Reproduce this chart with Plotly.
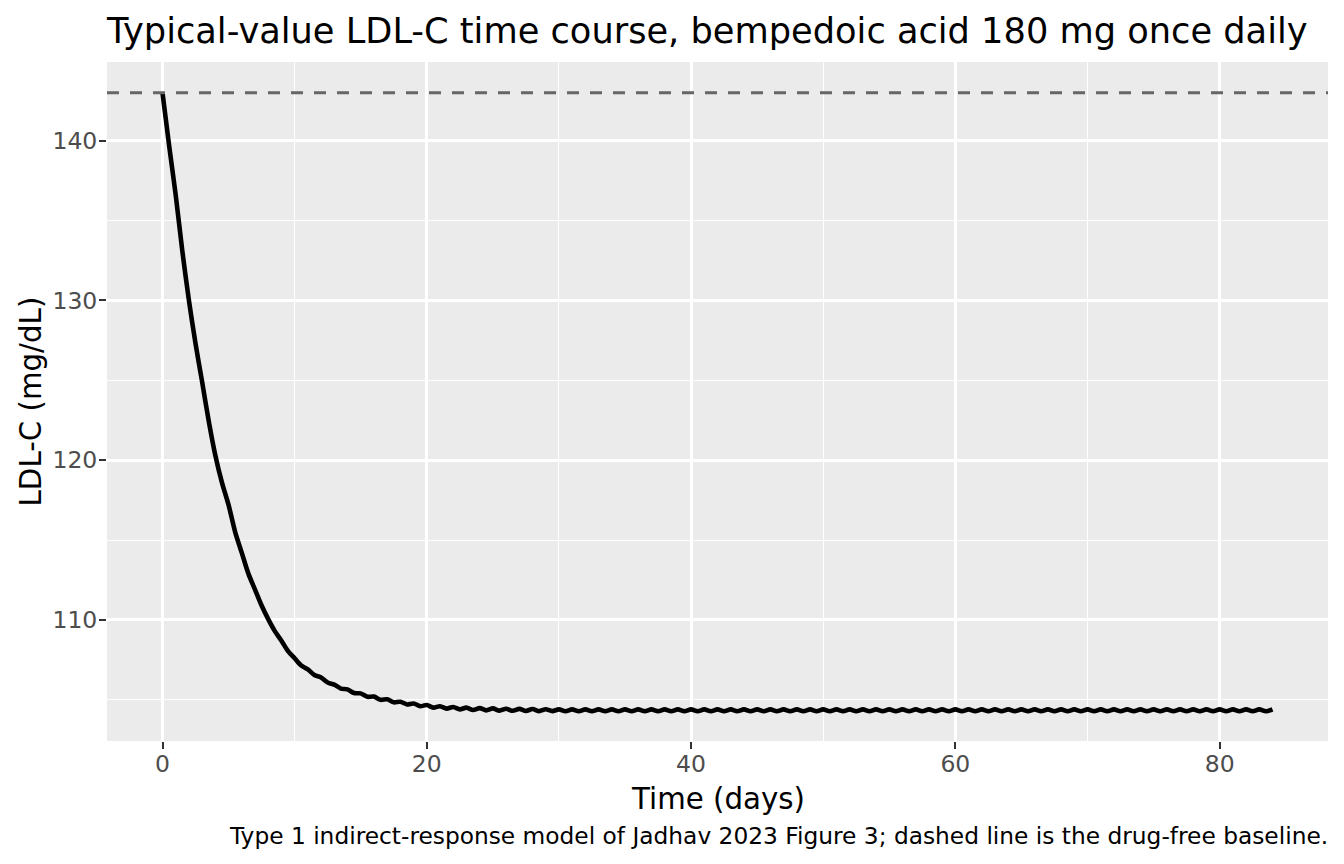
import plotly.graph_objects as go

# LDL-C (mg/dL) at each daily dose time, day 0..84
ldl_at_dose = [
    143.0, 136.6, 130.0, 124.9, 120.3, 117.2, 114.2, 111.9, 110.05, 108.7,
    107.6, 106.9, 106.4, 105.95, 105.65, 105.4, 105.2, 105.03, 104.88, 104.77,
    104.67, 104.6, 104.55, 104.51, 104.48, 104.46, 104.44, 104.43, 104.42, 104.41,
    104.4, 104.4, 104.4, 104.4, 104.4, 104.4, 104.4, 104.4, 104.4, 104.4,
    104.4, 104.4, 104.4, 104.4, 104.4, 104.4, 104.4, 104.4, 104.4, 104.4,
    104.4, 104.4, 104.4, 104.4, 104.4, 104.4, 104.4, 104.4, 104.4, 104.4,
    104.4, 104.4, 104.4, 104.4, 104.4, 104.4, 104.4, 104.4, 104.4, 104.4,
    104.4, 104.4, 104.4, 104.4, 104.4, 104.4, 104.4, 104.4, 104.4, 104.4,
    104.4, 104.4, 104.4, 104.4, 104.4,
]

# LDL-C half way through each dosing interval, day 0.5..83.5
ldl_mid_interval = [
    139.7, 133.1, 127.3, 122.45, 118.6, 115.5, 112.9, 110.9, 109.3, 108.05,
    107.15, 106.55, 106.08, 105.7, 105.42, 105.19, 105.0, 104.84, 104.71, 104.6,
    104.51, 104.45, 104.4, 104.36, 104.34, 104.32, 104.31, 104.3, 104.29, 104.29,
    104.28, 104.28, 104.28, 104.28, 104.28, 104.28, 104.28, 104.28, 104.28, 104.28,
    104.28, 104.28, 104.28, 104.28, 104.28, 104.28, 104.28, 104.28, 104.28, 104.28,
    104.28, 104.28, 104.28, 104.28, 104.28, 104.28, 104.28, 104.28, 104.28, 104.28,
    104.28, 104.28, 104.28, 104.28, 104.28, 104.28, 104.28, 104.28, 104.28, 104.28,
    104.28, 104.28, 104.28, 104.28, 104.28, 104.28, 104.28, 104.28, 104.28, 104.28,
    104.28, 104.28, 104.28, 104.28,
]

baseline_ldl = 143.0

x_ticks = [0, 20, 40, 60, 80]
y_ticks = [110, 120, 130, 140]

# merge both sample sets into one time course
points = [(float(d), v) for d, v in enumerate(ldl_at_dose)]
points += [(d + 0.5, v) for d, v in enumerate(ldl_mid_interval)]
points.sort()
time_days = [p[0] for p in points]
ldl = [p[1] for p in points]

FONT = "DejaVu Sans"

fig = go.Figure()
fig.add_trace(go.Scatter(
    x=time_days, y=ldl, mode="lines",
    line=dict(color="black", width=4.6, shape="spline", smoothing=0.8),
    hoverinfo="x+y", showlegend=False,
))

# drug-free baseline
fig.add_shape(type="line", xref="paper", x0=0, x1=1, yref="y",
              y0=baseline_ldl, y1=baseline_ldl,
              line=dict(color="#666666", width=3, dash="12px,11px"))

axis_common = dict(
    showline=False, zeroline=False, ticks="outside", ticklen=7, tickwidth=2.2,
    tickcolor="#333333", gridcolor="white", gridwidth=2.6,
    tickfont=dict(family=FONT, size=23.5, color="#4D4D4D"),
)

fig.update_xaxes(range=[-4.2, 88.2], tickvals=x_ticks, ticklabelstandoff=-5,
                 minor=dict(tickvals=[10, 30, 50, 70], showgrid=True,
                            gridcolor="white", gridwidth=1.3, ticks=""),
                 **axis_common)
fig.update_yaxes(range=[102.42, 144.93], tickvals=y_ticks, ticklabelstandoff=-3,
                 minor=dict(tickvals=[105, 115, 125, 135], showgrid=True,
                            gridcolor="white", gridwidth=1.3, ticks=""),
                 **axis_common)

fig.update_layout(
    width=1344, height=864,
    margin=dict(l=107, r=16, t=62, b=123),
    paper_bgcolor="white", plot_bgcolor="#EBEBEB",
    font=dict(family=FONT, color="black"),
    title=dict(text="Typical-value LDL-C time course, bempedoic acid 180 mg once daily",
               x=107 / 1344, xref="container", xanchor="left",
               y=1 - 31 / 864, yref="container", yanchor="middle",
               font=dict(family=FONT, size=35.2, color="black")),
    annotations=[
        dict(text="Time (days)", xref="paper", yref="paper",
             x=0.5, y=-(799 - 741) / 679, xanchor="center", yanchor="middle",
             showarrow=False, font=dict(family=FONT, size=29.3, color="black")),
        dict(text="LDL-C (mg/dL)", xref="paper", yref="paper",
             x=-(107 - 30) / 1221, y=0.5, xanchor="center", yanchor="middle",
             textangle=-90, showarrow=False,
             font=dict(family=FONT, size=29.3, color="black")),
        dict(text="Type 1 indirect-response model of Jadhav 2023 Figure 3; "
                  "dashed line is the drug-free baseline.",
             xref="paper", yref="paper", x=1.002, y=-(835 - 741) / 679,
             xanchor="right", yanchor="middle", showarrow=False,
             font=dict(family=FONT, size=23.3, color="black")),
    ],
)

# the page's default body margin would shift the figure by 8px
fig.write_html("out.html", config={"displayModeBar": False},
               post_script="document.body.style.margin='0';")
